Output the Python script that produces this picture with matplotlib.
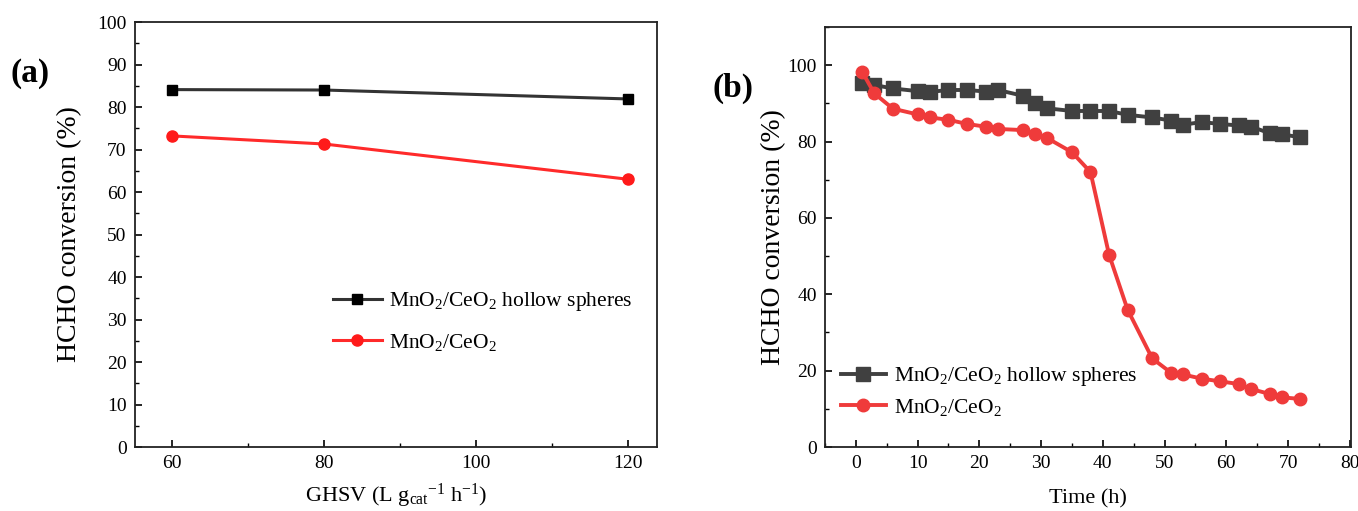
import matplotlib
matplotlib.use("Agg")
import matplotlib.pyplot as plt
from matplotlib.ticker import MultipleLocator

plt.rcParams['font.family'] = ['Liberation Serif', 'DejaVu Serif']
plt.rcParams['mathtext.fontset'] = 'custom'
plt.rcParams['mathtext.rm'] = 'Liberation Serif'
plt.rcParams['mathtext.it'] = 'Liberation Serif'

# panel (a): conversion vs GHSV
ghsv = [60, 80, 120]
hollow_a = [84.1, 84.0, 81.9]
plain_a = [73.2, 71.3, 63.0]

# panel (b): stability over time
time_h = [1, 3, 6, 10, 12, 15, 18, 21, 23, 27, 29, 31, 35, 38, 41, 44, 48,
          51, 53, 56, 59, 62, 64, 67, 69, 72]
hollow_b = [95.2, 94.8, 93.9, 93.2, 93.0, 93.5, 93.5, 93.1, 93.5, 92.0, 90.0,
            88.7, 88.0, 88.0, 88.0, 87.0, 86.3, 85.5, 84.4, 85.1, 84.6, 84.2,
            83.9, 82.2, 81.9, 81.1]
plain_b = [98.3, 92.6, 88.6, 87.1, 86.3, 85.7, 84.6, 83.9, 83.3, 83.0, 82.0,
           80.9, 77.2, 72.0, 50.4, 36.0, 23.2, 19.5, 19.0, 17.9, 17.2, 16.5,
           15.2, 13.9, 13.0, 12.6]

lbl_hollow = 'MnO$_2$/CeO$_2$ hollow spheres'
lbl_plain = 'MnO$_2$/CeO$_2$'

fig = plt.figure(figsize=(13.58, 5.11), dpi=100)
ax1 = fig.add_axes([0.0994, 0.1252, 0.3844, 0.8317])
ax2 = fig.add_axes([0.6075, 0.1252, 0.3874, 0.822])

# --- (a)
ax1.plot(ghsv, hollow_a, '-s', color='#333333', mfc='black', mec='black',
         lw=2.2, ms=7.5, label=lbl_hollow)
ax1.plot(ghsv, plain_a, '-o', color='#ff2a2a', mfc='#ff1a1a', mec='#ff1a1a',
         lw=2.2, ms=8, label=lbl_plain)
ax1.set_xlim(55.1, 123.8)
ax1.set_ylim(0, 100)
ax1.xaxis.set_major_locator(MultipleLocator(20))
ax1.xaxis.set_minor_locator(MultipleLocator(10))
ax1.yaxis.set_major_locator(MultipleLocator(10))
ax1.yaxis.set_minor_locator(MultipleLocator(5))
ax1.set_xlabel('GHSV (L g$_{cat}$$^{-1}$ h$^{-1}$)', fontsize=16, labelpad=7)
ax1.set_ylabel('HCHO conversion (%)', fontsize=20, labelpad=11)
ax1.legend(loc='center left', bbox_to_anchor=(0.358, 0.295), frameon=False,
           fontsize=15.5, borderpad=0, handlelength=2.3, handletextpad=0.33,
           labelspacing=0.85)
fig.text(0.008, 0.84, '(a)', fontsize=24, fontweight='bold')

# --- (b)
ax2.plot(time_h, hollow_b, '-s', color='#404040', lw=2.8, ms=9.5,
         label=lbl_hollow)
ax2.plot(time_h, plain_b, '-o', color='#ef3b3b', lw=2.8, ms=9,
         label=lbl_plain)
ax2.set_xlim(-5.0, 80.2)
ax2.set_ylim(0, 110)
ax2.xaxis.set_major_locator(MultipleLocator(10))
ax2.xaxis.set_minor_locator(MultipleLocator(5))
ax2.yaxis.set_major_locator(MultipleLocator(20))
ax2.yaxis.set_minor_locator(MultipleLocator(10))
ax2.set_xlabel('Time (h)', fontsize=16, labelpad=12)
ax2.set_ylabel('HCHO conversion (%)', fontsize=20, labelpad=1)
ax2.legend(loc='center left', bbox_to_anchor=(0.0095, 0.132), frameon=False,
           fontsize=15.5, borderpad=0, handlelength=2.1, handletextpad=0.37,
           labelspacing=0.4)
fig.text(0.525, 0.81, '(b)', fontsize=24, fontweight='bold')

for ax in (ax1, ax2):
    ax.tick_params(which='both', direction='in', labelsize=14)
    ax.tick_params(which='major', length=5, width=1.2, pad=6)
    ax.tick_params(which='minor', length=3, width=1.0)
    for s in ax.spines.values():
        s.set_linewidth(1.3)
        s.set_color('#222222')

fig.savefig('out.png', dpi=100)
